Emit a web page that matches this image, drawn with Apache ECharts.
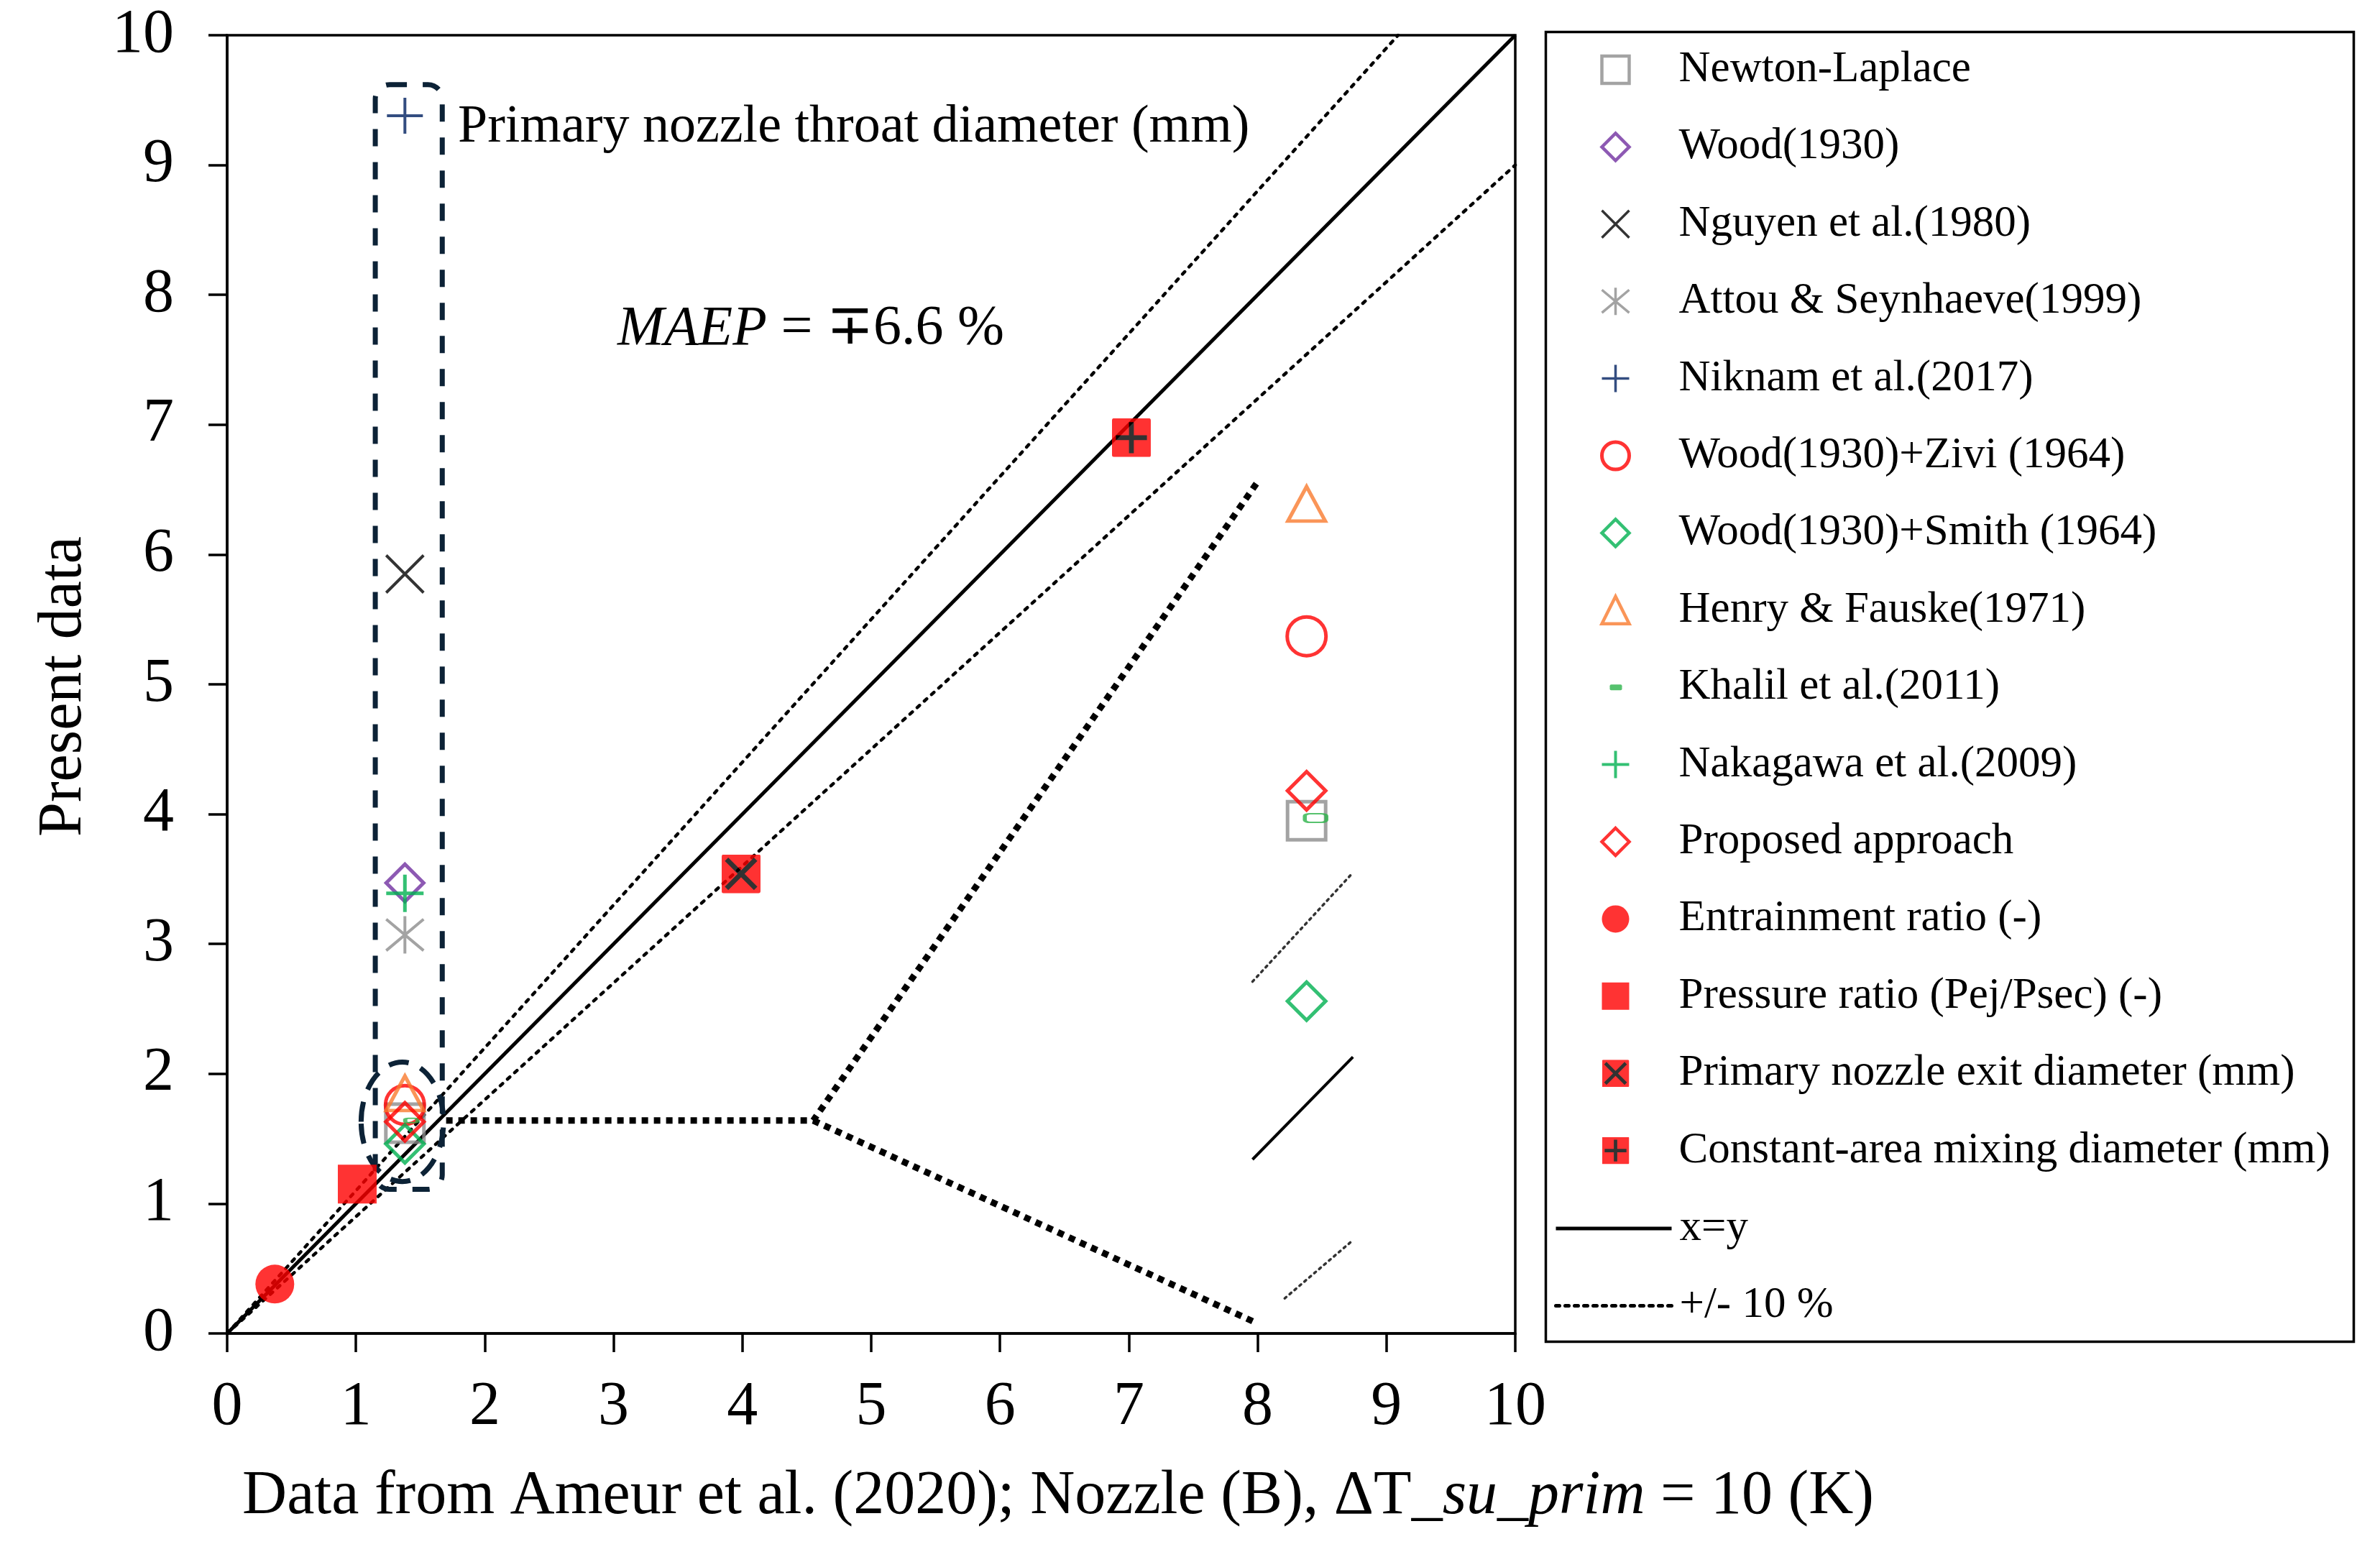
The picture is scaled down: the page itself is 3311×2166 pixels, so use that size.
<!DOCTYPE html>
<html><head><meta charset="utf-8">
<script src="https://cdn.jsdelivr.net/npm/echarts@6/dist/echarts.min.js"></script>
<style>html,body{margin:0;padding:0;background:#fff}#c{width:3311px;height:2166px}</style>
</head><body><div id="c"></div>
<script>
// ---------- data ----------
const xTicks = [0,1,2,3,4,5,6,7,8,9,10];
const newtonLaplace = [[1.38, 1.62], [8.38, 3.95]];
const wood1930 = [[1.38, 3.47]];
const nguyen1980 = [[1.38, 5.85]];
const attou1999 = [[1.38, 3.07]];
const niknam2017 = [[1.38, 9.38]];
const woodZivi = [[1.38, 1.76], [8.38, 5.37]];
const woodSmith = [[1.38, 1.46], [8.38, 2.56]];
const henryFauske = [[1.38, 1.85], [8.38, 6.39]];
const khalil2011 = [[1.43, 1.64], [8.45, 3.97]];
const nakagawa2009 = [[1.38, 3.39]];
const proposed = [[1.38, 1.63], [8.38, 4.18]];
const entrainment = [[0.37, 0.38]];
const pressureRatio = [[1.01, 1.15]];
const nozzleExit = [[3.99, 3.54]];
const mixingDiameter = [[7.02, 6.9]];
const xyLine = [[0, 0], [10, 10]];
const plus10Line = [[0, 0], [9.09, 10]];
const minus10Line = [[0, 0], [10, 9]];
const calloutUpper = [[1.70, 1.64], [4.55, 1.64], [8.0, 6.56]];
const calloutLower = [[4.55, 1.64], [7.97, 0.09]];
const insetSolid = [[7.96, 1.34], [8.74, 2.13]];
const insetUpper = [[7.96, 2.71], [8.74, 3.55]];
const insetLower = [[8.21, 0.27], [8.73, 0.71]];
const throatBox = [[1.15, 1.11, 1.67, 9.62]];     // x0, y0, x1, y1
const clusterEllipse = [[1.36, 1.63, 0.32, 0.46]]; // cx, cy, rx, ry

// ---------- styles ----------
const FONT = 'Liberation Serif';
const RED = '#ff0000', GREEN = '#00b050', GRAY = '#8c8c8c', NAVY = '#002060',
      PURPLE = '#7030a0', ORANGE = '#f97b2e', BOX = '#0c2236';
function svgIcon(svg) { return 'image://data:image/svg+xml;charset=utf-8,' + encodeURIComponent(svg); }
const exitIcon = svgIcon('<svg xmlns="http://www.w3.org/2000/svg" width="40" height="40" viewBox="0 0 40 40"><rect x="0" y="0" width="40" height="40" rx="2" fill="#ff0000"/><path d="M5,5L35,35M35,5L5,35" stroke="#000" stroke-width="5"/></svg>');
const mixIcon = svgIcon('<svg xmlns="http://www.w3.org/2000/svg" width="40" height="40" viewBox="0 0 40 40"><rect x="0" y="0" width="40" height="40" rx="2" fill="#ff0000"/><path d="M20,4V36M4,20H36" stroke="#000" stroke-width="5"/></svg>');
const khalilLegendIcon = svgIcon('<svg xmlns="http://www.w3.org/2000/svg" width="38" height="38" viewBox="0 0 38 38"><rect x="11" y="15" width="17" height="8" rx="2" fill="#2db34a"/></svg>');
const PLUS = 'path://M0,5H10M5,0V10';
const CROSS = 'path://M0,0L10,10M10,0L0,10';
const STAR = 'path://M0,0.8L10,9.2M10,0.8L0,9.2M5,0V10';
const HOLLOW = 'rgba(0,0,0,0)';

function sc(name, data, symbol, size, style, extra) {
  return Object.assign({
    type: 'scatter', name: name, data: data, symbol: symbol, symbolSize: size,
    itemStyle: style, silent: true, z: 5
  }, extra || {});
}
function ln(name, data, style, z) {
  return { type: 'line', name: name, data: data, symbol: 'none', lineStyle: style,
           itemStyle: { color: '#000' }, silent: true, z: z || 3 };
}

const series = [
  ln('x=y', xyLine, { color: '#000', width: 5 }),
  ln('+/- 10 %', plus10Line, { color: '#000', width: 4.5, type: [4.5, 9], cap: 'round' }),
  ln('minus10', minus10Line, { color: '#000', width: 4.5, type: [4.5, 9], cap: 'round' }),
  ln('calloutUpper', calloutUpper, { color: '#000', width: 9, type: [9, 8] }),
  ln('calloutLower', calloutLower, { color: '#000', width: 9, type: [9, 8] }),
  ln('insetSolid', insetSolid, { color: '#000', width: 4 }),
  ln('insetUpper', insetUpper, { color: '#333', width: 3.5, type: [3, 6], cap: 'round' }),
  ln('insetLower', insetLower, { color: '#333', width: 3.5, type: [3, 6], cap: 'round' }),
  {
    type: 'custom', name: 'throatBox', data: throatBox, silent: true, z: 4,
    renderItem: function (params, api) {
      const a = api.coord([api.value(0), api.value(3)]);
      const b = api.coord([api.value(2), api.value(1)]);
      return { type: 'rect', shape: { x: a[0], y: a[1], width: b[0] - a[0], height: b[1] - a[1], r: 20 },
               style: { fill: 'none', stroke: BOX, lineWidth: 7, lineDash: [24, 22] } };
    }
  },
  {
    type: 'custom', name: 'clusterEllipse', data: clusterEllipse, silent: true, z: 4,
    renderItem: function (params, api) {
      const c = api.coord([api.value(0), api.value(1)]);
      const s = api.size([api.value(2), api.value(3)]);
      return { type: 'ellipse', shape: { cx: c[0], cy: c[1], rx: s[0], ry: s[1] },
               style: { fill: 'none', stroke: BOX, lineWidth: 7, lineDash: [28, 18] } };
    }
  },
  sc('Newton-Laplace', newtonLaplace, 'rect', 53, { color: HOLLOW, borderColor: GRAY, borderWidth: 5 }),
  sc('Wood(1930)', wood1930, 'diamond', 52, { color: HOLLOW, borderColor: PURPLE, borderWidth: 5 }),
  sc('Nguyen et al.(1980)', nguyen1980, CROSS, 52, { color: '#000', borderColor: '#000', borderWidth: 4 }),
  sc('Attou & Seynhaeve(1999)', attou1999, STAR, 52, { color: GRAY, borderColor: GRAY, borderWidth: 4 }),
  sc('Niknam et al.(2017)', niknam2017, PLUS, 50, { color: NAVY, borderColor: NAVY, borderWidth: 4 }),
  sc('Wood(1930)+Zivi (1964)', woodZivi, 'circle', 54, { color: HOLLOW, borderColor: RED, borderWidth: 5 }),
  sc('Wood(1930)+Smith (1964)', woodSmith, 'diamond', 53, { color: HOLLOW, borderColor: GREEN, borderWidth: 5 }),
  sc('Henry & Fauske(1971)', henryFauske, 'triangle', [52, 48], { color: HOLLOW, borderColor: ORANGE, borderWidth: 5 }),
  sc('Khalil et al.(2011)', khalil2011, 'roundRect', function (v, p) { return p.dataIndex === 1 ? [30, 12] : [17, 6]; },
     { color: HOLLOW, borderColor: '#2db34a', borderWidth: 3.5 }),
  sc('Nakagawa et al.(2009)', nakagawa2009, PLUS, 52, { color: GREEN, borderColor: GREEN, borderWidth: 5 }),
  sc('Proposed approach', proposed, 'diamond', 53, { color: HOLLOW, borderColor: RED, borderWidth: 5 }),
  sc('Entrainment ratio (-)', entrainment, 'circle', 54, { color: RED }),
  sc('Pressure ratio (Pej/Psec) (-)', pressureRatio, 'rect', 54, { color: RED }),
  sc('Primary nozzle exit diameter (mm)', nozzleExit, exitIcon, 54, {}),
  sc('Constant-area mixing diameter (mm)', mixingDiameter, mixIcon, 54, {})
];

const legendMarkers = [
  { name: 'Newton-Laplace', itemStyle: { borderWidth: 4.5 } },
  { name: 'Wood(1930)', itemStyle: { borderWidth: 4.5 } },
  { name: 'Nguyen et al.(1980)', itemStyle: { borderWidth: 3.5 } },
  { name: 'Attou & Seynhaeve(1999)', itemStyle: { borderWidth: 3.5 } },
  { name: 'Niknam et al.(2017)', itemStyle: { borderWidth: 3.5 } },
  { name: 'Wood(1930)+Zivi (1964)', itemStyle: { borderWidth: 5 } },
  { name: 'Wood(1930)+Smith (1964)', itemStyle: { borderWidth: 4.5 } },
  { name: 'Henry & Fauske(1971)', itemStyle: { borderWidth: 4.5 } },
  { name: 'Khalil et al.(2011)', icon: khalilLegendIcon },
  { name: 'Nakagawa et al.(2009)', itemStyle: { borderWidth: 4 } },
  { name: 'Proposed approach', itemStyle: { borderWidth: 4.5 } },
  { name: 'Entrainment ratio (-)' },
  { name: 'Pressure ratio (Pej/Psec) (-)' },
  { name: 'Primary nozzle exit diameter (mm)' },
  { name: 'Constant-area mixing diameter (mm)' }
];

const axisCommon = {
  type: 'value', min: 0, max: 10, interval: 1,
  axisLine: { show: true, lineStyle: { color: '#000', width: 3.5 } },
  axisTick: { show: true, inside: false, length: 26, lineStyle: { color: '#000', width: 3.5 } },
  splitLine: { show: false },
  axisLabel: { color: '#000', fontFamily: FONT, fontSize: 86 }
};

const option = {
  animation: false,
  backgroundColor: '#fff',
  grid: { left: 316, top: 49, width: 1792, height: 1806, show: true, borderColor: '#000', borderWidth: 3.5, backgroundColor: 'transparent' },
  xAxis: Object.assign({}, axisCommon, { axisLabel: Object.assign({}, axisCommon.axisLabel, { margin: 60,
    formatter: function (v) { return xTicks.indexOf(v) >= 0 ? String(v) : ''; } }) }),
  yAxis: Object.assign({}, axisCommon, { axisLabel: Object.assign({}, axisCommon.axisLabel, { margin: 74 }) }),
  legend: [
    {
      orient: 'vertical', left: 2226, top: 65, padding: 0, itemWidth: 38, itemHeight: 38, itemGap: 43.4,
      selectedMode: false, data: legendMarkers,
      textStyle: { fontFamily: FONT, fontSize: 61, color: '#000', lineHeight: 64, padding: [0, 0, 0, 64] }
    },
    {
      orient: 'vertical', left: 2162, top: 1677, padding: 0, itemWidth: 161, itemHeight: 10, itemGap: 43.4,
      selectedMode: false,
      data: [
        { name: 'x=y', itemStyle: { opacity: 0 }, lineStyle: { width: 5, type: 'solid', color: '#000' } },
        { name: '+/- 10 %', itemStyle: { opacity: 0 }, lineStyle: { width: 5, type: [5, 8], color: '#000' } }
      ],
      textStyle: { fontFamily: FONT, fontSize: 61, color: '#000', lineHeight: 64, padding: [0, 0, 0, 6] }
    }
  ],
  graphic: [
    { type: 'rect', left: 2148, top: 42, shape: { width: 1124, height: 1822 }, style: { fill: 'none', stroke: '#000', lineWidth: 3.5 }, silent: true },
    { type: 'text', x: 637, y: 178, style: { text: 'Primary nozzle throat diameter (mm)', fontFamily: FONT, fontSize: 74, fill: '#000', align: 'left', verticalAlign: 'middle' }, silent: true },
    { type: 'text', x: 859, y: 458, style: { text: '{it|MAEP} = ∓6.6 %', fontFamily: FONT, fontSize: 78, fill: '#000', align: 'left', verticalAlign: 'middle',
        rich: { it: { fontFamily: FONT, fontSize: 78, fontStyle: 'italic', fill: '#000' } } }, silent: true },
    { type: 'text', x: 1472, y: 2082, style: { text: 'Data from Ameur et al. (2020); Nozzle (B), ΔT_{it|su}_{it|prim} = 10 (K)', fontFamily: FONT, fontSize: 86, fill: '#000', align: 'center', verticalAlign: 'middle',
        rich: { it: { fontFamily: FONT, fontSize: 86, fontStyle: 'italic', fill: '#000' } } }, silent: true },
    { type: 'text', x: 89, y: 955, rotation: Math.PI / 2, style: { text: 'Present data', fontFamily: FONT, fontSize: 86, fill: '#000', align: 'center', verticalAlign: 'middle' }, silent: true }
  ],
  series: series
};
const chart = echarts.init(document.getElementById('c'));
chart.setOption(option);
</script></body></html>
